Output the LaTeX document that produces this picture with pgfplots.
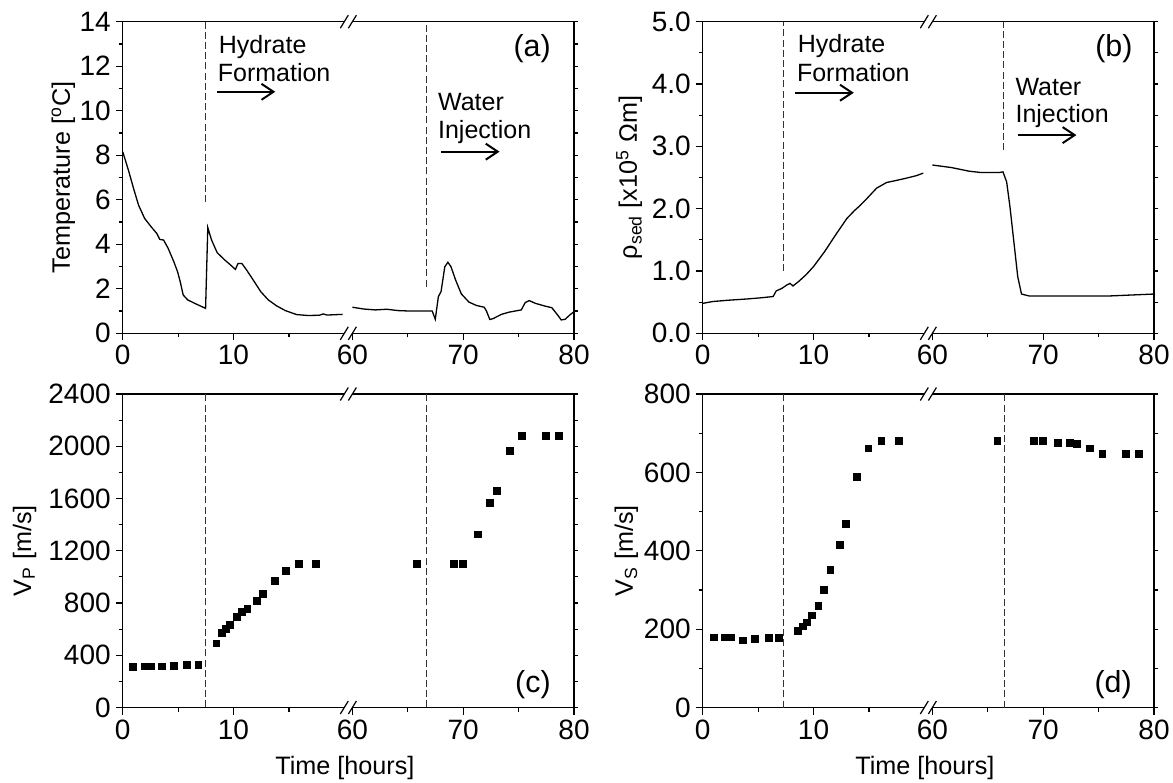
\documentclass[border=0pt]{standalone}
\usepackage{fontspec}
\setmainfont{Liberation Sans}
\usepackage{pgfplots}
\pgfplotsset{compat=1.18}
\usetikzlibrary{arrows.meta}
\newcommand\annfont{\fontsize{12.5}{15}\selectfont}
\newcommand\labfont{\fontsize{12.6}{15}\selectfont}
\newcommand\letfont{\fontsize{15.2}{18}\selectfont}
\newcommand\brk[1]{%
  \fill[white] ([yshift=-1.5pt]axis cs:20,#1) rectangle ([yshift=1.5pt]axis cs:60,#1);
  \draw[line width=0.6pt] ([xshift=-2pt,yshift=-3.25pt]axis cs:20,#1) -- ([xshift=2pt,yshift=3.25pt]axis cs:20,#1);
  \draw[line width=0.6pt] ([xshift=-2pt,yshift=-3.25pt]axis cs:60,#1) -- ([xshift=2pt,yshift=3.25pt]axis cs:60,#1);
}
\tikzset{
  arr/.style={line width=1pt, -{Straight Barb[length=6pt,width=8pt]}},
  ann/.style={anchor=base west, font=\annfont, inner sep=0pt},
  plet/.style={anchor=base east, font=\letfont, inner sep=0pt},
}
\begin{document}
\begin{tikzpicture}
\path[use as bounding box] (0,0) rectangle (586.5pt,391pt);
\pgfplotsset{
  brk/.style={
    scale only axis, width=225.65pt,
    xmin=0, xmax=80,
    x coord trafo/.code={\pgfmathparse{##1>40 ? ##1-39.27 : ##1}},
    x coord inv trafo/.code={\pgfmathparse{##1>20.365 ? ##1+39.27 : ##1}},
    xtick={0,10,60,70,80}, xticklabels={0,10,60,70,80},
    minor xtick={5,15,65,75},
    xtick pos=left, ytick pos=left, yticklabel pos=left,
    tick align=outside,
    major tick length=3.5pt, minor tick length=2pt,
    axis line style={line width=0.6pt},
    every tick/.style={black, line width=0.6pt},
    tick label style={font=\fontsize{14}{16}\selectfont, inner sep=2.3pt},
    /pgf/number format/assume math mode=true,
    /pgf/number format/1000 sep={},
    clip=false,
  },
  rt/.style={
    scale only axis, width=225.65pt, xmin=0, xmax=1,
    axis x line=none, axis y line*=right, yticklabels={},
    tick align=outside, major tick length=2pt, minor tick length=2pt,
    axis line style={line width=0.6pt},
    every tick/.style={black, line width=0.6pt},
  },
  curve/.style={black, line width=0.65pt, no marks},
  vdash/.style={black!80, line width=0.6pt, dash pattern=on 3.5pt off 1.6pt, no marks},
  sq/.style={black, only marks, mark=square*, mark size=1.7pt},
}
% ---------------- (a)
\begin{axis}[rt, at={(61.35pt,224.35pt)}, anchor=south west, height=155.8pt,
  ymin=0, ymax=14, ytick={0,2,...,14}, minor y tick num=1]
\end{axis}
\begin{axis}[brk, at={(61.35pt,224.35pt)}, anchor=south west, height=155.8pt,
  ymin=0, ymax=14, ytick={0,2,...,14}, minor y tick num=1,
  ylabel={Temperature [\textsuperscript{o}C]},
  every axis y label/.style={at={(axis description cs:-0.117,0.5)},rotate=90,anchor=base,font=\labfont}]
\addplot[curve] coordinates {(0,8.16) (0.51,7.34) (1.02,6.44) (1.43,5.76) (1.98,5.16) (2.56,4.79) (3.07,4.49) (3.34,4.22) (3.69,4.19) (4.10,3.82) (4.61,3.22) (4.95,2.77) (5.19,2.32) (5.46,1.72) (5.87,1.50) (6.48,1.35) (7.0,1.23) (7.48,1.12) (7.68,4.75) (8.02,4.19) (8.53,3.62) (9.22,3.29) (9.73,3.07) (10.17,2.87) (10.41,3.14) (10.75,3.14) (11.19,2.84) (11.77,2.40) (12.46,1.87) (13.14,1.50) (13.9,1.23) (14.68,1.02) (15.70,0.84) (16.72,0.80) (17.75,0.81) (18.09,0.87) (18.43,0.82) (19.85,0.85)};
\addplot[curve] coordinates {(60.0,1.17) (61.03,1.09) (62.07,1.05) (63.1,1.08) (64.14,1.02) (65.17,1.0) (66.2,1.0) (67.2,1.0) (67.48,0.63) (67.76,1.65) (68.0,1.87) (68.34,2.99) (68.62,3.19) (68.9,2.99) (69.31,2.40) (69.83,1.77) (70.52,1.40) (71.2,1.25) (71.9,1.17) (72.1,1.0) (72.4,0.62) (72.7,0.66) (73.45,0.85) (74.14,0.95) (74.9,1.02) (75.24,1.05) (75.6,1.38) (75.95,1.47) (76.55,1.34) (77.4,1.22) (78.0,1.15) (78.4,0.90) (78.85,0.60) (79.2,0.63) (79.66,0.84) (80,0.97)};
\addplot[vdash] coordinates {(7.45,5.9) (7.45,14)};
\addplot[vdash] coordinates {(66.72,2.1) (66.72,14)};
\node[ann] at (axis cs:8.65,12.58) {Hydrate};
\node[ann] at (axis cs:8.55,11.3) {Formation};
\draw[arr] (axis cs:8.5,10.85) -- (axis cs:13.77,10.85);
\node[ann] at (axis cs:67.7,10.03) {Water};
\node[ann] at (axis cs:67.7,8.76) {Injection};
\draw[arr] (axis cs:68.0,8.16) -- (axis cs:73.28,8.16);
\node[plet] at (axis cs:77.93,12.43) {(a)};
\brk{0}\brk{14}
\end{axis}
% ---------------- (b)
\begin{axis}[rt, at={(351.35pt,224.35pt)}, anchor=south west, height=155.8pt,
  ymin=0, ymax=5, ytick={0,1,...,5}, minor y tick num=1]
\end{axis}
\begin{axis}[brk, at={(351.35pt,224.35pt)}, anchor=south west, height=155.8pt,
  ymin=0, ymax=5, ytick={0,1,...,5}, minor y tick num=1,
  yticklabel style={/pgf/number format/.cd, fixed, fixed zerofill, precision=1},
  ylabel={ρ\textsubscript{sed} [x10\textsuperscript{5} Ωm]},
  every axis y label/.style={at={(axis description cs:-0.1456,0.5)},rotate=90,anchor=base,font=\labfont}]
\addplot[curve] coordinates {(0,0.48) (0.91,0.51) (2.26,0.53) (3.94,0.55) (5.29,0.57) (6.36,0.59) (6.63,0.68) (7.14,0.72) (7.64,0.78) (7.88,0.80) (8.15,0.76) (8.65,0.83) (9.33,0.94) (10.0,1.07) (11.0,1.31) (12.0,1.58) (13.0,1.84) (13.7,1.97) (14.2,2.05) (14.7,2.14) (15.7,2.33) (16.6,2.42) (17.4,2.45) (18.4,2.49) (19.3,2.53) (19.9,2.57)};
\addplot[curve] coordinates {(60,2.70) (61.7,2.66) (63.35,2.60) (64.36,2.58) (66.03,2.58) (66.37,2.59) (66.7,2.43) (67.0,2.03) (67.37,1.44) (67.7,0.91) (68.04,0.63) (68.7,0.60) (72.7,0.60) (76.1,0.60) (80,0.63)};
\addplot[vdash] coordinates {(7.3,1.0) (7.3,5)};
\addplot[vdash] coordinates {(66.43,2.94) (66.43,5)};
\node[ann] at (axis cs:8.55,4.50) {Hydrate};
\node[ann] at (axis cs:8.48,4.04) {Formation};
\draw[arr] (axis cs:8.32,3.86) -- (axis cs:13.64,3.86);
\node[ann] at (axis cs:67.47,3.82) {Water};
\node[ann] at (axis cs:67.47,3.38) {Injection};
\draw[arr] (axis cs:67.77,3.18) -- (axis cs:73.0,3.18);
\node[plet] at (axis cs:78.09,4.44) {(b)};
\brk{0}\brk{5}
\end{axis}
% ---------------- (c)
\begin{axis}[rt, at={(61.35pt,37.25pt)}, anchor=south west, height=156.75pt,
  ymin=0, ymax=2400, ytick={0,400,...,2400}, minor y tick num=1]
\end{axis}
\begin{axis}[brk, at={(61.35pt,37.25pt)}, anchor=south west, height=156.75pt,
  ymin=0, ymax=2400, ytick={0,400,...,2400}, minor y tick num=1,
  ylabel={V\textsubscript{P} [m/s]}, xlabel={Time [hours]},
  every axis y label/.style={at={(axis description cs:-0.203,0.5)},rotate=90,anchor=base,font=\labfont},
  every axis x label/.style={at={(axis description cs:0.4925,-0.2153)},anchor=base,font=\labfont}]
\addplot[sq] coordinates {(0.92,312) (1.98,315) (2.56,315) (3.52,315) (4.61,320) (5.8,328) (6.83,328) (8.46,491) (8.94,571) (9.32,601) (9.66,635) (10.31,696) (10.78,732) (11.26,757) (12.12,814) (12.63,870) (13.72,972) (14.74,1044) (15.87,1098) (17.47,1098) (65.79,1098) (69.14,1098) (70.0,1098) (71.31,1325) (72.41,1566) (73.03,1656) (74.2,1965) (75.28,2078) (77.48,2078) (78.62,2078)};
\addplot[vdash] coordinates {(7.5,0) (7.5,2400)};
\addplot[vdash] coordinates {(66.72,0) (66.72,2400)};
\node[plet] at (axis cs:77.93,115) {(c)};
\brk{0}\brk{2400}
\end{axis}
% ---------------- (d)
\begin{axis}[rt, at={(351.35pt,37.25pt)}, anchor=south west, height=156.75pt,
  ymin=0, ymax=800, ytick={0,200,...,800}, minor y tick num=1]
\end{axis}
\begin{axis}[brk, at={(351.35pt,37.25pt)}, anchor=south west, height=156.75pt,
  ymin=0, ymax=800, ytick={0,200,...,800}, minor y tick num=1,
  ylabel={V\textsubscript{S} [m/s]}, xlabel={Time [hours]},
  every axis y label/.style={at={(axis description cs:-0.1545,0.5)},rotate=90,anchor=base,font=\labfont},
  every axis x label/.style={at={(axis description cs:0.4925,-0.2153)},anchor=base,font=\labfont}]
\addplot[sq] coordinates {(0.98,179) (1.99,179) (2.59,179) (3.6,171) (4.71,175) (5.96,177) (6.9,177) (8.59,196) (9.06,207) (9.43,217) (9.83,235) (10.44,260) (10.94,300) (11.52,352) (12.36,415) (12.9,469) (13.94,588) (14.95,661) (16.13,681) (17.74,681) (65.86,681) (69.15,681) (69.98,681) (71.32,676) (72.4,676) (73.07,672) (74.24,661) (75.35,648) (77.43,648) (78.64,648)};
\addplot[vdash] coordinates {(7.3,0) (7.3,800)};
\addplot[vdash] coordinates {(66.54,0) (66.54,800)};
\node[plet] at (axis cs:78.02,38) {(d)};
\brk{0}\brk{800}
\end{axis}
\end{tikzpicture}
\end{document}
